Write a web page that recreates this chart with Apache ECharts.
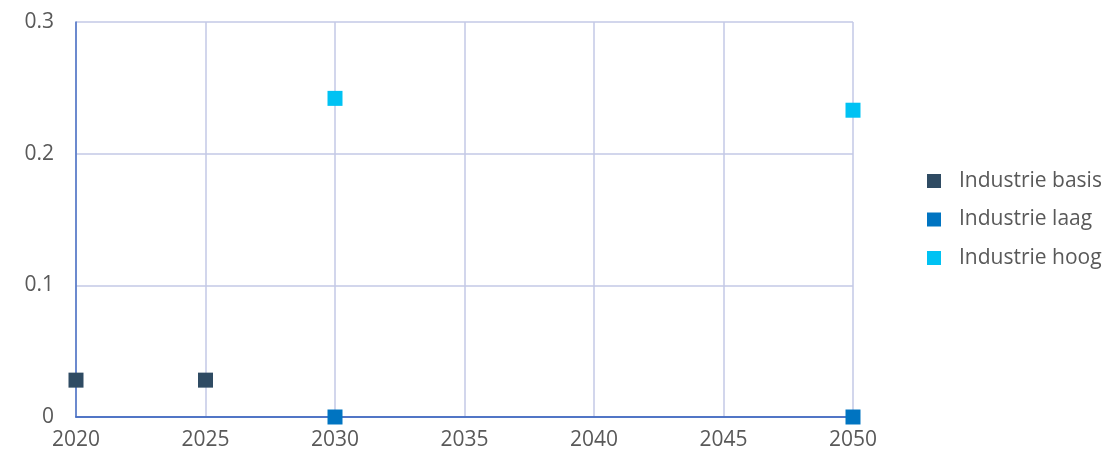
<!DOCTYPE html>
<html>
<head>
<meta charset="utf-8">
<script src="https://cdn.jsdelivr.net/npm/echarts@6/dist/echarts.min.js"></script>
<style>
  html, body { margin: 0; padding: 0; background: #ffffff; }
  #chart { width: 1110px; height: 456px; }
</style>
</head>
<body>
<div id="chart"></div>
<script>
// Years on the horizontal axis and scenario values (share)
const xMin = 2020;
const xMax = 2050;
const seriesNames = ['Industrie basis', 'Industrie laag', 'Industrie hoog'];
const basisPoints = [[2020, 0.028], [2025, 0.028]];
const laagPoints = [[2030, 0.0], [2050, 0.0]];
const hoogPoints = [[2030, 0.242], [2050, 0.233]];
const seriesColors = ['#2f4b63', '#0074c1', '#00c2f3'];

const textColor = '#595959';
const fontFamily = '"Open Sans", "Noto Sans", sans-serif';
const axisBlue = '#4a70c4';
const gridLavender = '#c3c8e6';

const chart = echarts.init(document.getElementById('chart'));

function scatter(name, data, color) {
  return {
    name: name,
    type: 'scatter',
    data: data,
    symbol: 'rect',
    symbolSize: 15,
    itemStyle: { color: color, opacity: 1 },
    emphasis: { disabled: true },
    z: 5
  };
}

chart.setOption({
  animation: false,
  grid: { left: 76, right: 257, top: 22, bottom: 39, containLabel: false },
  legend: {
    orient: 'vertical',
    left: 927,
    top: 169,
    padding: 0,
    itemWidth: 14,
    itemHeight: 14,
    itemGap: 14.5,
    icon: 'rect',
    selectedMode: false,
    textStyle: { color: textColor, fontSize: 21, lineHeight: 24, fontFamily: fontFamily, padding: [0, 0, 0, 13] },
    data: seriesNames
  },
  xAxis: [{
    type: 'value',
    min: xMin,
    max: xMax,
    interval: 5,
    axisLine: { show: true, onZero: false, lineStyle: { color: axisBlue, width: 1.5 } },
    axisTick: { show: false },
    splitLine: { show: true, lineStyle: { color: gridLavender, width: 1.5 } },
    axisLabel: { color: textColor, fontSize: 21, fontFamily: fontFamily, margin: 13, formatter: v => String(v) }
  }, {
    type: 'value',
    position: 'top',
    min: xMin,
    max: xMax,
    interval: 5,
    axisLine: { show: true, lineStyle: { color: axisBlue, width: 1.5 } },
    axisTick: { show: false },
    axisLabel: { show: false },
    splitLine: { show: false }
  }],
  yAxis: {
    type: 'value',
    min: 0,
    max: 0.3,
    interval: 0.1,
    axisLine: { show: true, lineStyle: { color: axisBlue, width: 1.5 } },
    axisTick: { show: false },
    splitLine: { show: true, lineStyle: { color: gridLavender, width: 1.5 } },
    axisLabel: { color: textColor, fontSize: 21, fontFamily: fontFamily, margin: 22 }
  },
  series: [
    scatter(seriesNames[0], basisPoints, seriesColors[0]),
    scatter(seriesNames[1], laagPoints, seriesColors[1]),
    scatter(seriesNames[2], hoogPoints, seriesColors[2])
  ]
});
</script>
</body>
</html>
